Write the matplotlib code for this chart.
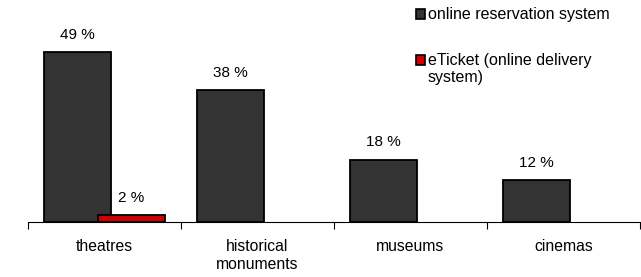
import matplotlib.pyplot as plt
from matplotlib.patches import Rectangle
import numpy as np

plt.rcParams['font.family'] = ['Liberation Sans', 'DejaVu Sans']

categories = ['theatres', 'historical\nmonuments', 'museums', 'cinemas']
reservation = [49, 38, 18, 12]
eticket = [2, None, None, None]
series_names = ['online reservation system', 'eTicket (online delivery\nsystem)']
series_colors = ['#333333', '#cc0000']

W, H = 641, 277
fig = plt.figure(figsize=(W / 100, H / 100), dpi=100)
ax = fig.add_axes([28 / W, 55 / H, 612 / W, 222 / H])

x = np.arange(len(categories))
w = 0.44
off = 0.176

ax.bar(x - off, reservation, w, color=series_colors[0], edgecolor='black', linewidth=1.3, zorder=2)
ex = [xi + off for xi, v in zip(x, eticket) if v is not None]
ev = [v for v in eticket if v is not None]
ax.bar(ex, ev, w, color=series_colors[1], edgecolor='black', linewidth=1.3, zorder=3)

for xi, v in list(zip(x - off, reservation)) + list(zip(ex, ev)):
    ax.annotate(f'{v} %', (xi, v), xytext=(0, 7.5), textcoords='offset points',
                ha='center', va='bottom', fontsize=11)

ax.set_xlim(-0.5, len(categories) - 0.5)
ax.set_ylim(0, 64)
for s in ['top', 'right', 'left']:
    ax.spines[s].set_visible(False)
ax.spines['bottom'].set_linewidth(0.8)
ax.set_yticks([])
ax.set_xticks(x)
ax.set_xticklabels(categories, fontsize=11.3, linespacing=1.3)
ax.tick_params(axis='x', which='major', length=0, pad=12)
ax.set_xticks(np.arange(-0.5, len(categories)), minor=True)
ax.tick_params(axis='x', which='minor', length=5, width=0.8, direction='out')

# legend drawn by hand so the handle sits on the first line
leg_y = [14, 60]
for yc, name, col in zip(leg_y, series_names, series_colors):
    fig.patches.append(Rectangle((416 / W, 1 - (yc + 4.5) / H), 9 / W, 9 / H,
                                 transform=fig.transFigure, facecolor=col,
                                 edgecolor='black', linewidth=1.2))
    fig.text(428 / W, 1 - (yc - 7.5) / H, name, fontsize=11.5, va='top', ha='left',
             linespacing=1.2)

fig.savefig('out.png', dpi=100)
